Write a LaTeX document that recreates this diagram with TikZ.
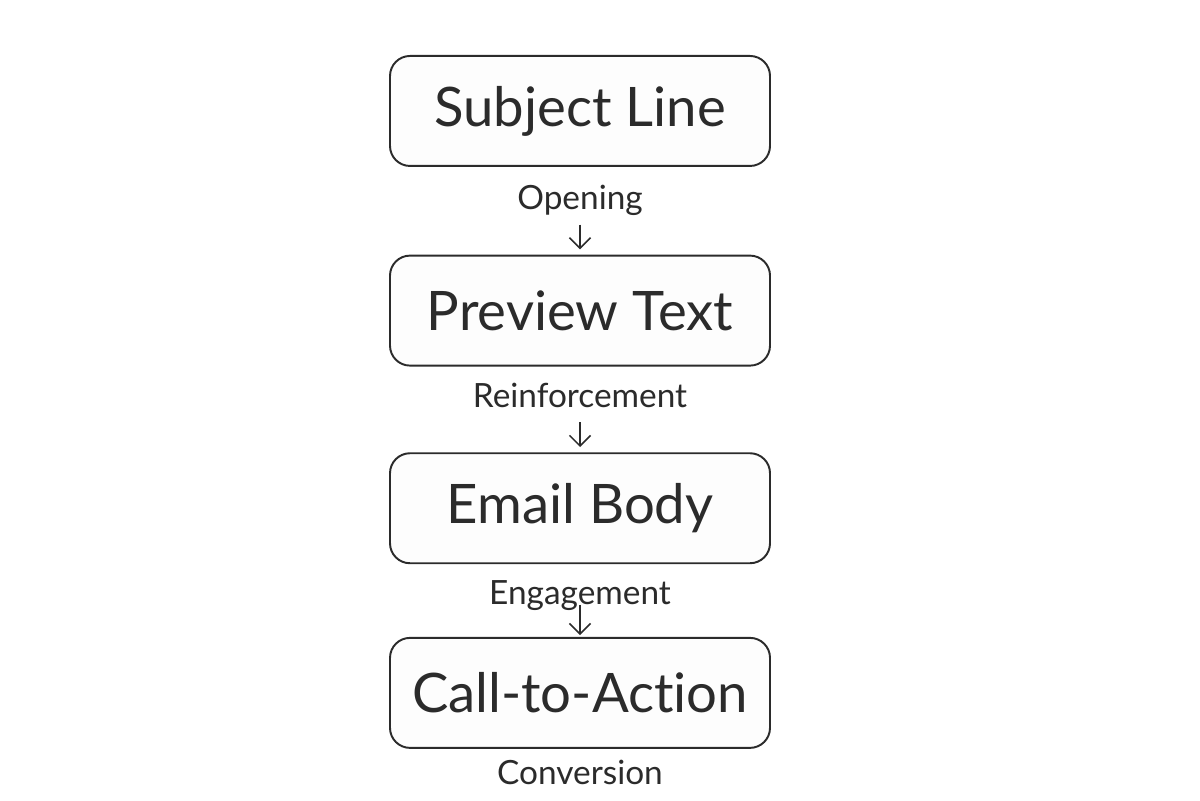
\documentclass[tikz,border=0pt]{standalone}
\usepackage{fontspec}
\setmainfont{Lato}[Ligatures=NoCommon]
\usepackage{xcolor}
\usepackage{tikz}
\usetikzlibrary{arrows.meta,positioning}
\definecolor{ink}{HTML}{2B2B2B}
\definecolor{paper}{HTML}{FDFDFD}
\tikzset{
  stagebox/.style={
    rectangle, rounded corners=0.4cm, draw=ink, fill=paper, line width=1.1pt,
    minimum width=7.6cm, minimum height=2.2cm,
    font=\fontsize{31}{36}\selectfont, text=ink, align=center,
    inner sep=4pt
  },
  flowlabel/.style={
    inner sep=0pt, text height=0.45cm, text depth=0.15cm,
    font=\fontsize{19}{22}\selectfont, text=ink
  },
  flowarrow/.style={
    -{Straight Barb[length=6pt,width=12pt]}, line width=0.9pt, color=ink,
    shorten <=4pt, shorten >=3pt
  },
}
\begin{document}
\begin{tikzpicture}
    \useasboundingbox[fill=white] (0,0) rectangle (24,-16);
    \node[stagebox, anchor=north] (subject) at (11.6,-1.1) {Subject Line};
    \node[flowlabel, below=0.4cm of subject] (opening) {Opening};
    \node[stagebox, below=0.74cm of opening] (preview) {Preview Text};
    \node[flowlabel, below=0.36cm of preview] (reinforce) {Reinforcement};
    \node[stagebox, below=0.74cm of reinforce] (body) {Email Body};
    \node[flowlabel, below=0.34cm of body] (engage) {Engagement};
    \node[stagebox, below=0.5cm of engage] (cta) {Call-to-Action};
    \node[flowlabel, below=0.26cm of cta] (convert) {Conversion};
    \draw[flowarrow] (opening) -- (preview);
    \draw[flowarrow] (reinforce) -- (body);
    \draw[flowarrow, shorten <=-4pt, shorten >=1pt] (engage) -- (cta);
\end{tikzpicture}
\end{document}
